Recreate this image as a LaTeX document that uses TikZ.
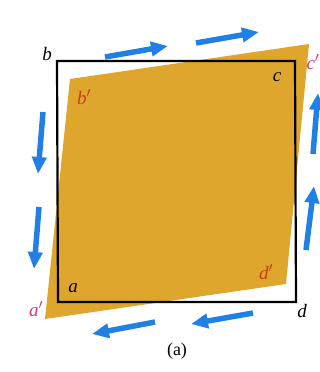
\documentclass[tikz,border=0pt]{standalone}
\usepackage{fontspec}
\setmainfont{Liberation Serif}
\usepackage{tikz}
\usepackage{xcolor}
\usetikzlibrary{arrows.meta}

\definecolor{sheetgold}{RGB}{222,166,44}
\definecolor{flowblue}{RGB}{32,128,230}
\definecolor{primered}{RGB}{196,62,28}
\definecolor{primepink}{RGB}{204,60,120}

\begin{document}
\begin{tikzpicture}[
  x=1pt, y=-1pt,
  lbl/.style={font=\fontsize{19}{22}\selectfont\itshape, inner sep=0pt},
  flow/.style={draw=flowblue, line width=5.5pt,
               -{Triangle[length=17pt, width=14pt]}},
  >=Stealth
]
\useasboundingbox (0,0) rectangle (320,372);

% Corners of the square and of the sheared sheet
\coordinate (a) at (58,302);
\coordinate (b) at (57,61);
\coordinate (c) at (295,61);
\coordinate (d) at (296,302);
\coordinate (ap) at (45,319);
\coordinate (bp) at (70,79);
\coordinate (cp) at (309,44);
\coordinate (dp) at (286,284);

% Sheared sheet
\fill[sheetgold] (ap) -- (bp) -- (cp) -- (dp) -- cycle;

% Original square
\draw[line width=2.2pt] (a) -- (b) -- (c) -- (d) -- cycle;

% Corner labels
\node[lbl] (la) at (73,288) {a};
\node[lbl] (lb) at (47,54) {b};
\node[lbl] (lc) at (277,77) {c};
\node[lbl] (ld) at (302,311) {d};
\node[lbl, text=primepink] (lap) at (36,309) {a$'$};
\node[lbl, text=primered] (lbp) at (84,97) {b$'$};
\node[lbl, text=primepink] (lcp) at (313,62) {c$'$};
\node[lbl, text=primered] (ldp) at (266,272) {d$'$};

% Shear flow arrows
\coordinate (t1s) at (105,57); \coordinate (t1e) at (168,46);
\coordinate (t2s) at (196,43); \coordinate (t2e) at (259,32);
\coordinate (l1s) at (43,112); \coordinate (l1e) at (38,174);
\coordinate (l2s) at (39,207); \coordinate (l2e) at (34,269);
\coordinate (r1s) at (313,154); \coordinate (r1e) at (318,93);
\coordinate (r2s) at (306,250); \coordinate (r2e) at (314,186);
\coordinate (b1s) at (253,313); \coordinate (b1e) at (191,324);
\coordinate (b2s) at (155,322); \coordinate (b2e) at (92,334);
\foreach \s/\e in {t1s/t1e, t2s/t2e, l1s/l1e, l2s/l2e,
                   r1s/r1e, r2s/r2e, b1s/b1e, b2s/b2e}
  \draw[flow] (\s) -- (\e);

% Caption
\node[font=\fontsize{18}{21}\selectfont] (cap) at (177,351) {(a)};

\end{tikzpicture}
\end{document}
